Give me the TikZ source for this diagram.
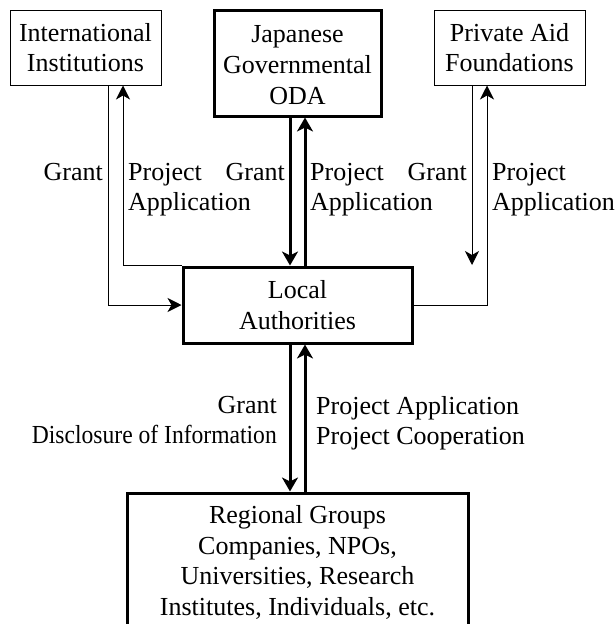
\documentclass[tikz,border=0pt]{standalone}
\usepackage{fontspec}
\usepackage{graphicx}
\setmainfont{Liberation Serif}
\usetikzlibrary{arrows.meta}
\begin{document}
\begin{tikzpicture}[x=1pt,y=-1pt,
  box/.style={draw, inner sep=0pt, align=center, font=\fontsize{26}{30.5}\selectfont},
  thinb/.style={box, line width=1pt},
  thickb/.style={box, line width=3pt},
  thinar/.style={-{Stealth[length=14pt,width=14pt,inset=4pt]}, line width=1pt},
  thickar/.style={-{Stealth[length=14pt,width=16pt,inset=4pt]}, line width=3pt},
  lblL/.style={inner sep=0pt, anchor=north west, align=left, font=\fontsize{26}{30}\selectfont},
  lblR/.style={inner sep=0pt, anchor=north east, align=right, font=\fontsize{26}{30}\selectfont}]
\useasboundingbox (0,0) rectangle (614,624);
\clip (0,0) rectangle (614,624);
\node[thinb, minimum width=151pt, minimum height=75pt] (intl) at (85.5,47.5) {International\\Institutions};
\node[thickb, minimum width=167pt, minimum height=106pt, font=\fontsize{26}{31}\selectfont] (jp) at (297.5,63) {\rule{0pt}{22pt}Japanese\\Governmental\\ODA};
\node[thinb, minimum width=151pt, minimum height=75pt] (pa) at (509.5,47.5) {Private Aid\\Foundations};
\node[thickb, minimum width=229pt, minimum height=76pt] (la) at (297.5,305) {Local\\Authorities};
\node[thickb, minimum width=341pt, minimum height=139pt] (rg) at (297.5,562.5) {Regional Groups\\Companies, NPOs,\\Universities, Research\\Institutes, Individuals, etc.};
\coordinate (pg) at (472,265);
% arrows
\draw[thinar] ([xshift=22.5pt]intl.south) |- (la.west);
\draw[thinar] (la.north west) -| ([xshift=37.5pt]intl.south);
\draw[thickar] ([xshift=-7.5pt]jp.south) -- ([xshift=-7.5pt]la.north);
\draw[thickar] ([xshift=7.5pt]la.north) -- ([xshift=7.5pt]jp.south);
\draw[thinar] ([xshift=-37.5pt]pa.south) -- (pg);
\draw[thinar] (la.east) -| ([xshift=-22.5pt]pa.south);
\draw[thickar] ([xshift=-7.5pt]la.south) -- ([xshift=-7.5pt]rg.north);
\draw[thickar] ([xshift=7.5pt]rg.north) -- ([xshift=7.5pt]la.south);
% labels
\node[lblR] (l1) at (103,163) {Grant};
\node[lblL] (l2) at (128,163) {Project\\Application};
\node[lblR] (l3) at (285,163) {Grant};
\node[lblL] (l4) at (310,163) {Project\\Application};
\node[lblR] (l5) at (467,163) {Grant};
\node[lblL] (l6) at (492,163) {Project\\Application};
\node[lblR] (l7) at (277,396) {Grant\\\scalebox{0.907}[1]{Disclosure of Information}};
\node[lblL] (l8) at (316,396) {Project Application\\Project Cooperation};
\end{tikzpicture}
\end{document}
